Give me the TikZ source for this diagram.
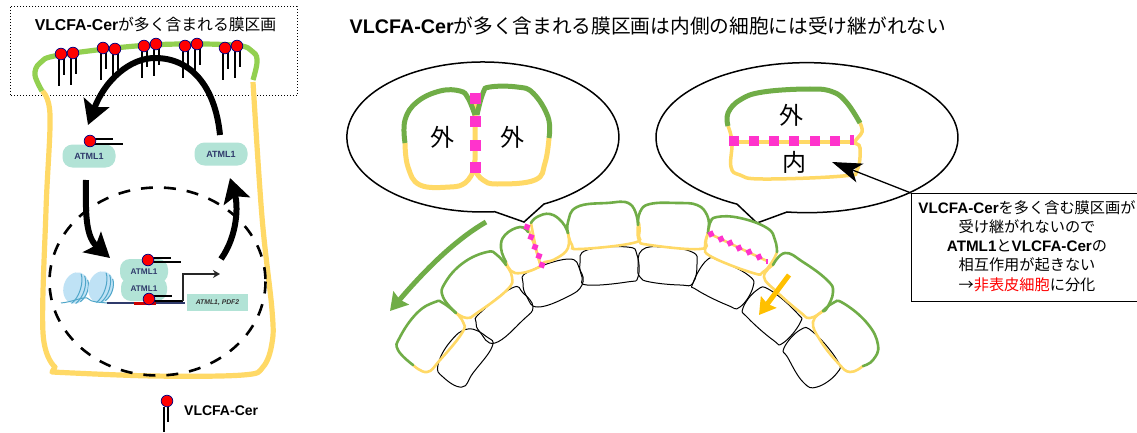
\documentclass[tikz,border=0pt]{standalone}
\usepackage{fontspec}
\usepackage{xcolor}
\usetikzlibrary{arrows.meta,shapes.geometric}
\setmainfont{Liberation Sans}
\newfontfamily\jpfont{Noto Sans CJK JP}
\newcommand{\J}[1]{{\jpfont #1}}
\newcommand{\B}[1]{{\bfseries #1}}
\newcommand{\fs}[1]{\fontsize{#1}{#1}\selectfont}
\definecolor{leafgreen}{HTML}{70AD47}
\definecolor{capgreen}{HTML}{92D050}
\definecolor{memyellow}{HTML}{FFD966}
\definecolor{tfmint}{HTML}{B2E3D6}
\definecolor{navytext}{HTML}{2F3A6B}
\definecolor{hotpink}{HTML}{FF33CC}
\definecolor{nucfill}{HTML}{BFE2F5}
\definecolor{nucline}{HTML}{4FA6C9}
\tikzset{
  greenwall/.style={draw=leafgreen,line width=2.6pt,line cap=round},
  yellowwall/.style={draw=memyellow,line width=2.6pt,line cap=round},
  greenbig/.style={draw=leafgreen,line width=5pt},
  yellowbig/.style={draw=memyellow,line width=5pt},
  inner cell/.style={draw=black,line width=1pt},
  bubble/.style={draw=black,line width=1.5pt,fill=white,line join=miter},
  tf/.style={fill=tfmint,rounded corners=10pt,inner sep=0pt,text=navytext,font=\bfseries\fs{9}},
  pinkmark/.style={fill=hotpink,minimum size=#1,inner sep=0pt,draw=none},
  bigarrow/.style={line width=6pt,-{Stealth[length=24pt,width=27pt,inset=5pt]}},
  head/.style={fill=red,draw=blue!50!black,line width=.7pt},
  tail/.style={draw=black,line width=1.6pt},
  nucleosome/.pic={
    \fill[nucfill] (0,0) ellipse[x radius=12.5,y radius=16];
    \draw[nucline,line width=1pt] (1,-15) .. controls (6,-8) and (6,8) .. (0,16);
    \draw[nucline,line width=1pt] (5,-14) .. controls (10,-7) and (10,7) .. (4,15);
    \draw[nucline,line width=1pt] (9,-11) .. controls (13,-5) and (13,5) .. (8,12);
  }
}
\begin{document}
\begin{tikzpicture}[x=1pt,y=-1pt]
\useasboundingbox (0,0) rectangle (1137,433);
\fill[white] (0,0) rectangle (1137,433);

% ---- cell on the left ----
\draw[black,line width=1pt,dotted] (10,7) rectangle (297,96);
\node (lefttitle) at (155.5,24) {\fs{15.8}\B{VLCFA-Cer}\J{が多く含まれる膜区画}};

\draw[draw=memyellow,line width=5.2pt,line join=round] plot[smooth,tension=.6] coordinates {(42,91) (50,115) (46,210) (43,333) (55,367)} -- (52,372) -- plot[smooth,tension=.6] coordinates {(52,372) (153,376) (243,375) (263,367) (272,343) (272,310) (262,217) (253,82)};
\draw[draw=capgreen,line width=5.2pt] plot[smooth,tension=.6] coordinates {(42,91) (35,75) (40,63) (60,55) (150,45) (233,45) (253,52) (257,62) (253,80)};

% membrane lipids: head, long tail, short tail
\foreach \x/\y in {61/54,73/53,103/48,115/49,144/46,156/44,185/46,197/44,225/48,237/46}{
  \draw[tail] (\x-2,\y+4) -- (\x-2,\y+32);
  \draw[tail] (\x+3,\y+4) -- (\x+3,\y+21);
  \path[head] (\x,\y) circle[radius=5.8];
}

\draw[black,line width=2.6pt,dash pattern=on 12pt off 11pt] (157.5,281.5) ellipse[x radius=108,y radius=94];

\node[tf,minimum width=53pt,minimum height=23pt] (atmlL) at (89,156) {ATML1};
\node[tf,minimum width=53pt,minimum height=23pt] (atmlR) at (221,154) {ATML1};
\draw[tail] (93,139) -- (113,139);
\draw[tail] (93,144) -- (123,144);
\path[head] (90,141) circle[radius=5.8];

% transcription factors on the gene
\coordinate (nucA) at (76,288);
\coordinate (nucB) at (101,287);
\pic[rotate=-16] at (nucA) {nucleosome};
\pic[rotate=-16] at (nucB) {nucleosome};
\draw[nucline,line width=1pt] (61,303) .. controls (72,302) and (82,297) .. (87,298) .. controls (92,303) and (100,302) .. (107,303);
\draw[navytext,line width=1.2pt] (107,303) -- (185,303);
\draw[red!80!black,line width=3pt] (134,303) -- (156,303);
\node[tf,minimum width=46pt,minimum height=24pt] (dimerB) at (144,289) {};
\node[tf,minimum width=48pt,minimum height=24pt] (dimerA) at (144,271) {};
\node[text=navytext,font=\bfseries\fs{8.2},inner sep=0pt] (dimerAl) at (144,272) {ATML1};
\node[text=navytext,font=\bfseries\fs{8.2},inner sep=0pt] (dimerBl) at (144,289) {ATML1};
\draw[tail] (152,258) -- (171,258);
\draw[tail] (152,262) -- (181,262);
\path[head] (148,260) circle[radius=5.8];
\draw[tail] (153,296) -- (172,296);
\draw[black,line width=2pt] (153,301) -- (183,301);
\path[head] (149,299) circle[radius=5.8];
\node[fill=tfmint,minimum width=61pt,minimum height=17pt,inner sep=0pt,font=\bfseries\itshape\fs{6.8},text=black!80] (gene) at (217.5,302.5) {ATML1, PDF2};
\draw[black!85,line width=1.8pt,-{Stealth[length=7pt,width=8pt]}] (183,301) -- (183,274) -- (220,274);

% cycle of the protein between membrane and nucleus
\coordinate (leaveR) at (220,135);
\coordinate (arriveL) at (88,125);
\coordinate (leaveL) at (86,180);
\coordinate (arriveN) at (110,258);
\coordinate (leaveN) at (221,259);
\coordinate (arriveR) at (230,178);
\draw[bigarrow] (leaveR) .. controls (215,85) and (190,58) .. (155,58) .. controls (130,58) and (105,80) .. (arriveL);
\draw[bigarrow] (leaveL) .. controls (86,205) and (84,235) .. (arriveN);
\draw[bigarrow] (leaveN) .. controls (238,235) and (238,205) .. (arriveR);

% legend
\draw[tail] (164,407) -- (164,432);
\draw[tail] (168,407) -- (168,422);
\path[head] (167,401) circle[radius=5.8];
\node[anchor=west,inner sep=0pt] (legend) at (184,411) {\fs{14}\B{VLCFA-Cer}};

% ---- heading on the right ----
\node[anchor=west,inner sep=0pt] (maintitle) at (349.5,26) {\fs{19.7}\B{VLCFA-Cer}\J{が多く含まれる膜区画は内側の細胞には受け継がれない}};

% ---- speech bubbles with enlarged cells ----
\draw[bubble] (544,204) arc[start angle=63.3,end angle=-275,x radius=136,y radius=75] -- (524,222) -- cycle;
\draw[bubble] (787,212) arc[start angle=97.6,end angle=-242.4,x radius=151,y radius=75] -- (757,223) -- cycle;

% two outer cells side by side
\draw[yellowbig] plot[smooth,tension=.7] coordinates {(405,143) (408,167) (420,185) (450,187) (465,183) (473,172)} -- (475,160) -- (475,100);
\draw[yellowbig] plot[smooth,tension=.7] coordinates {(549,138) (545,163) (535,180) (497,184) (483,180) (476,172)};
\draw[greenbig] plot[smooth,tension=.7] coordinates {(405,143) (405,120) (417,102) (440,91) (460,91) (468,98) (475,115)};
\draw[greenbig] plot[smooth,tension=.7] coordinates {(477,115) (483,93) (490,87) (517,87) (533,93) (548,117) (549,138)};
\foreach \i/\y in {a/99,b/122,c/145,d/167}{
  \node[pinkmark=11pt] (wallL\i) at (475,\y) {};
}
\node[font=\jpfont\fs{24}] (outerA) at (442,137) {外};
\node[font=\jpfont\fs{24}] (outerB) at (512,137) {外};

% outer cell divided into outer and inner daughters
\draw[yellowbig,line width=3.5pt] plot[smooth,tension=.7] coordinates {(860,123) (862,132) (855,142) (860,148) (857,170) (843,176) (763,179) (740,175) (731,167) (732,142) (728,126)};
\draw[yellowbig,line width=3.5pt] (732,142) -- (855,142);
\draw[greenbig] plot[smooth,tension=.7] coordinates {(728,126) (728,113) (740,100) (763,92) (810,89) (833,92) (847,103) (860,123)};
\foreach \i/\x in {a/734,b/754,c/774,d/794,e/815,f/835}{
  \node[pinkmark=10.5pt] (wallR\i) at (\x,141) {};
}
\node[fill=hotpink,minimum width=4pt,minimum height=10.5pt,inner sep=0pt] (wallRg) at (852,140) {};
\node[font=\jpfont\fs{24}] (outerC) at (791,115) {外};
\node[font=\jpfont\fs{24}] (innerC) at (794,162) {内};

% ---- tissue: inner layer ----
\foreach \pts in {
  {(438,365) (450,342) (468,329) (487,337) (492,347) (473,373) (462,387) (443,377)},
  {(476,322) (480,313) (512,288) (523,293) (533,307) (523,320) (495,343) (480,332)},
  {(523,283) (528,272) (568,259) (580,270) (582,285) (567,297) (538,307) (527,297)},
  {(580,263) (587,250) (627,247) (637,255) (638,277) (627,282) (587,285) (582,277)},
  {(638,267) (642,250) (663,247) (692,252) (697,263) (693,283) (680,285) (650,282) (640,277)},
  {(693,283) (707,260) (720,261) (748,275) (753,287) (740,307) (727,305) (697,290)},
  {(743,308) (757,290) (770,290) (797,313) (800,323) (783,343) (773,340) (748,318)},
  {(784,348) (800,330) (813,332) (837,360) (837,373) (817,387) (803,382) (788,358)}}{
  \draw[inner cell] plot[smooth cycle,tension=.75] coordinates \pts;
}

% ---- tissue: outer layer, inner faces ----
\foreach \pts in {
  {(456,313) (463,322) (462,333) (440,360) (427,372) (413,365)},
  {(506,265) (512,277) (507,290) (477,313) (467,318) (456,313)},
  {(506,262) (515,273) (537,268) (539,260) (528,228)},
  {(568,233) (568,248) (557,258) (545,262) (539,260) (531,223)},
  {(568,233) (572,245) (580,249) (633,243) (639,235) (639,223)},
  {(638,225) (639,240) (650,245) (700,249) (706,240) (709,227)},
  {(708,233) (705,247) (712,257) (753,273) (763,272) (772,262) (777,252)},
  {(773,265) (764,277) (777,292) (800,312) (810,318) (823,311)},
  {(823,311) (813,322) (820,340) (838,363) (850,372) (863,366)}}{
  \draw[yellowwall] plot[smooth,tension=.75] coordinates \pts;
}
\draw[yellowwall] (708,233) -- (767,261);

% ---- tissue: outer layer, outward faces ----
\foreach \pts in {
  {(413,365) (398,350) (400,337) (417,313) (435,302) (443,303) (456,313)},
  {(456,313) (443,297) (445,283) (463,263) (487,252) (497,255) (506,265)},
  {(506,262) (501,248) (505,235) (520,227) (528,232)},
  {(531,223) (537,217) (550,214) (562,222) (568,233)},
  {(568,233) (568,222) (577,207) (607,203) (630,204) (638,223)},
  {(638,225) (640,212) (650,204) (677,203) (697,205) (707,215) (709,227)},
  {(708,233) (710,223) (717,217) (740,218) (767,228) (775,240) (777,252)},
  {(773,265) (785,253) (803,262) (827,280) (833,292) (827,308) (823,311)},
  {(823,311) (833,303) (843,303) (867,323) (878,345) (873,360) (863,366)}}{
  \draw[greenwall] plot[smooth,tension=.75] coordinates \pts;
}

% marks along the two new walls
\foreach \i/\x/\y in {a/527/227,b/531/237,c/535/247,d/539/256,e/542/265}{
  \node[pinkmark=5.5pt,rotate=-20] (markL\i) at (\x,\y) {};
}
\foreach \i/\x/\y in {a/711/234,b/721/239,c/730/243,d/739/248,e/749/252,f/759/257}{
  \node[pinkmark=5.5pt,rotate=25] (markR\i) at (\x,\y) {};
}
\node[fill=hotpink,minimum width=1.6pt,minimum height=5pt,inner sep=0pt] (markRg) at (767,261) {};

% direction arrows over the tissue
\coordinate (greenS) at (486,222);
\coordinate (greenE) at (390,311);
\coordinate (amberS) at (789,275);
\coordinate (amberE) at (759,315);
\draw[leafgreen,line width=5pt,-{Stealth[length=17pt,width=20pt,inset=2pt]}] (greenS) .. controls (455,240) and (425,270) .. (greenE);
\draw[color={rgb,255:red,255;green,192;blue,0},line width=5pt,-{Stealth[length=16pt,width=19pt,inset=2pt]}] (amberS) -- (amberE);

% ---- explanation box, running off the right edge ----
\node[align=center,inner sep=0pt,font=\fs{15.2}] (note) at (1027,246) {%
  \B{VLCFA-Cer}\J{を多く含む膜区画が}\\[4pt]
  \J{受け継がれないので}\\[4pt]
  \B{ATML1}\J{と}\B{VLCFA-Cer}\J{の}\\[4pt]
  \J{相互作用が起きない}\\[4pt]
  \J{→}\textcolor{red}{\J{非表皮細胞}}\J{に分化}};
\coordinate (boxTR) at (1137,193);
\coordinate (boxTL) at (911,193);
\coordinate (boxBL) at (911,301);
\coordinate (boxBR) at (1137,301);
\draw[black,line width=1pt] (boxTR) -- (boxTL) -- (boxBL) -- (boxBR);
\coordinate (noteTip) at (832,162);
\draw[black,line width=1.3pt,-{Stealth[length=30pt,width=20pt,inset=8pt]}] (boxTL) -- (noteTip);
\end{tikzpicture}
\end{document}
